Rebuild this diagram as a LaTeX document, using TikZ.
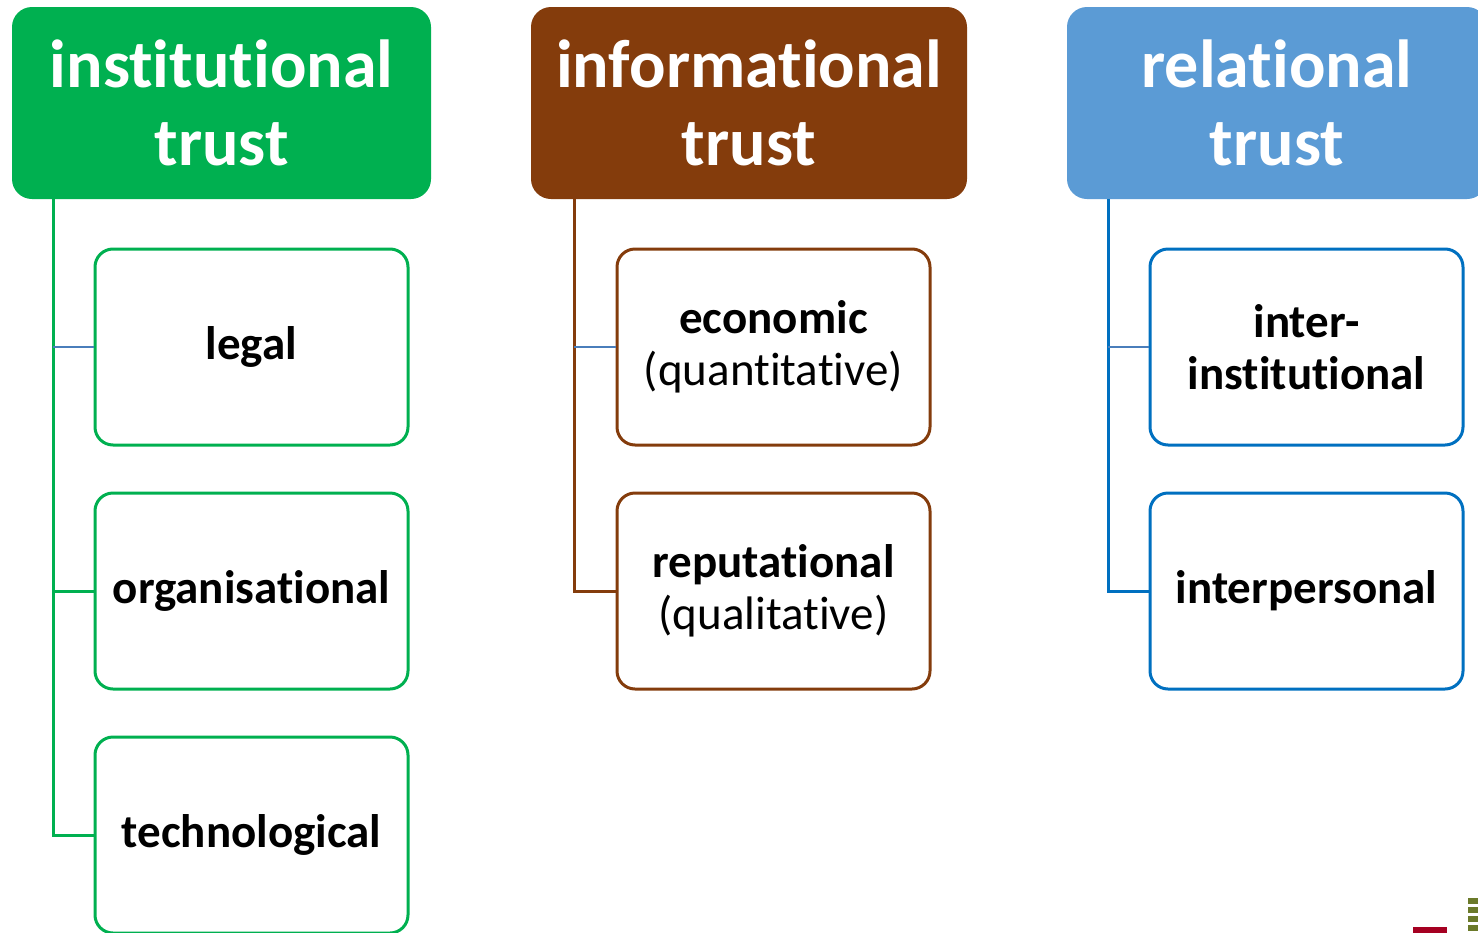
\documentclass[tikz,border=0pt]{standalone}
\usepackage{fontspec}
\setmainfont[Ligatures={NoCommon,NoContextual,NoRequired}]{Carlito}
\usetikzlibrary{calc}
\newcommand\tI{t\kern0pt i}
\definecolor{cgreen}{HTML}{00B050}
\definecolor{cbrown}{HTML}{843C0C}
\definecolor{cblueh}{HTML}{5B9BD5}
\definecolor{cblueb}{HTML}{0070C0}
\definecolor{cthin}{HTML}{4A7EBB}
\definecolor{clogored}{HTML}{A50021}
\definecolor{clogool}{HTML}{6B7A2A}
\tikzset{
  header/.style={rectangle, rounded corners=20pt, inner sep=0pt, minimum width=419pt, minimum height=192pt, text=white, align=center, font=\fontsize{68}{75}\selectfont\bfseries},
  child/.style={rectangle, rounded corners=18pt, line width=3pt, inner sep=0pt, minimum width=313pt, minimum height=196pt, align=center, font=\fontsize{47}{52}\selectfont, fill=white},
  trunk/.style={line width=3pt},
  thinlink/.style={line width=2pt, cthin}
}
\begin{document}
\begin{tikzpicture}[x=1pt,y=-1pt]
\useasboundingbox (0,0) rectangle (1478,932);
\clip (0,0) rectangle (1478,932);
% headers
\node[header, fill=cgreen] (h1) at (221.5,103) {\raisebox{3pt}{ins\tI tu\tI onal}\\trust};
\node[header, fill=cbrown, minimum width=436pt] (h2) at (749,103) {\raisebox{3pt}{informa\tI onal}\\trust};
\node[header, fill=cblueh, minimum width=420pt] (h3) at (1277,103) {\raisebox{3pt}{rela\tI onal}\\trust};
% column 1
\coordinate (t1) at (53,199);
\node[child, draw=cgreen] (c11) at (251.5,347) {\bfseries legal};
\node[child, draw=cgreen] (c12) at (251.5,591) {\bfseries organisa\tI onal};
\node[child, draw=cgreen] (c13) at (251.5,835) {\bfseries technological};
% column 2
\coordinate (t2) at (574,199);
\node[child, draw=cbrown] (c21) at (773.5,347) {\bfseries economic\\(quan\tI ta\tI ve)};
\node[child, draw=cbrown] (c22) at (773.5,591) {\bfseries reputa\tI onal\\(qualita\tI ve)};
% column 3
\coordinate (t3) at (1108,199);
\node[child, draw=cblueb] (c31) at (1306.5,347) {\bfseries inter-\\\bfseries ins\tI tu\tI onal};
\node[child, draw=cblueb] (c32) at (1306.5,591) {\bfseries interpersonal};
% connectors
\draw[trunk, cgreen] (t1) |- (c13.west);
\draw[trunk, cgreen] (c12.west) -- (c12.west -| t1);
\draw[thinlink] (c11.west) -- (c11.west -| t1);
\draw[trunk, cbrown] (t2) |- (c22.west);
\draw[thinlink] (c21.west) -- (c21.west -| t2);
\draw[trunk, cblueb] (t3) |- (c32.west);
\draw[thinlink] (c31.west) -- (c31.west -| t3);
% logo fragment
\fill[clogored] (1413,927) rectangle (1447,933);
\foreach \yy in {898,907,916,925} \fill[clogool] (1468,\yy) rectangle (1479,\yy+6);
\end{tikzpicture}
\end{document}
